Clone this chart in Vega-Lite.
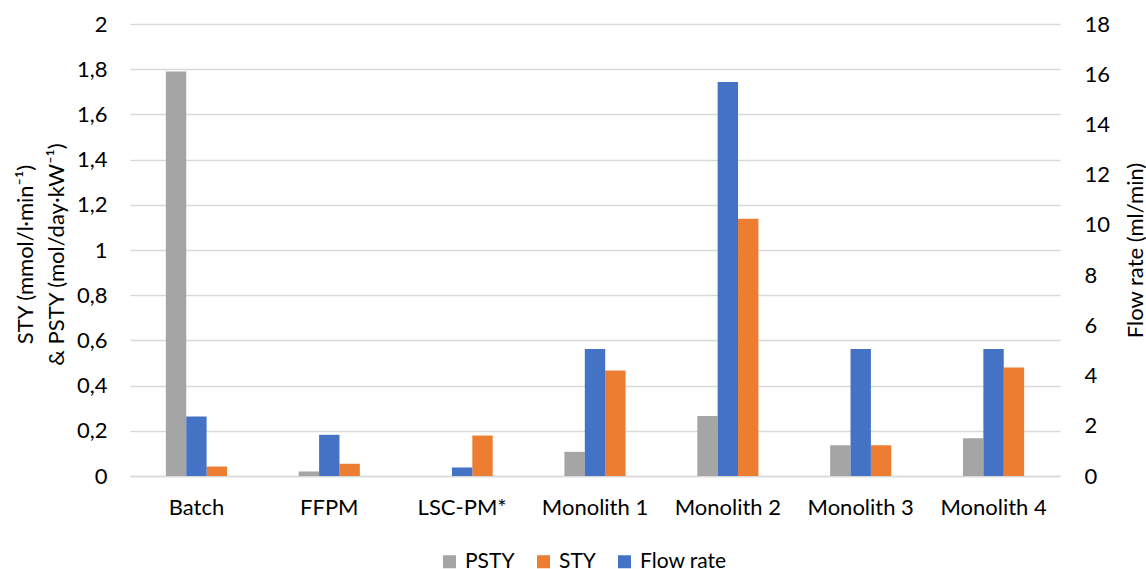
{
  "$schema": "https://vega.github.io/schema/vega-lite/v6.json",
  "autosize": {"type": "none"},
  "padding": {"left": 130, "top": 24, "right": 86, "bottom": 93},
  "width": 930,
  "height": 452,
  "background": "white",
  "config": {
    "font": "Lato",
    "view": {"stroke": null},
    "axis": {"labelFont": "Lato", "titleFont": "Lato", "labelColor": "#000000", "titleColor": "#000000", "labelFontSize": 22, "titleFontSize": 22, "titleFontWeight": "normal", "ticks": false, "domain": false}
  },
  "data": {
    "values": [
      {"group": "Batch", "series": "PSTY", "value": 1.79},
      {"group": "Batch", "series": "STY", "value": 0.042},
      {"group": "Batch", "series": "Flow rate", "value": 2.37},
      {"group": "FFPM", "series": "PSTY", "value": 0.02},
      {"group": "FFPM", "series": "STY", "value": 0.054},
      {"group": "FFPM", "series": "Flow rate", "value": 1.64},
      {"group": "LSC-PM*", "series": "PSTY", "value": 0},
      {"group": "LSC-PM*", "series": "STY", "value": 0.179},
      {"group": "LSC-PM*", "series": "Flow rate", "value": 0.34},
      {"group": "Monolith 1", "series": "PSTY", "value": 0.107},
      {"group": "Monolith 1", "series": "STY", "value": 0.467},
      {"group": "Monolith 1", "series": "Flow rate", "value": 5.06},
      {"group": "Monolith 2", "series": "PSTY", "value": 0.266},
      {"group": "Monolith 2", "series": "STY", "value": 1.138},
      {"group": "Monolith 2", "series": "Flow rate", "value": 15.69},
      {"group": "Monolith 3", "series": "PSTY", "value": 0.136},
      {"group": "Monolith 3", "series": "STY", "value": 0.136},
      {"group": "Monolith 3", "series": "Flow rate", "value": 5.06},
      {"group": "Monolith 4", "series": "PSTY", "value": 0.167},
      {"group": "Monolith 4", "series": "STY", "value": 0.48},
      {"group": "Monolith 4", "series": "Flow rate", "value": 5.06}
    ]
  },
  "encoding": {
    "x": {
      "field": "group",
      "type": "nominal",
      "sort": null,
      "scale": {"paddingInner": 0.54, "paddingOuter": 0.27},
      "axis": {"title": null, "labelAngle": 0, "labelPadding": 21, "domain": true, "domainColor": "#D9D9D9", "domainWidth": 1.5}
    },
    "xOffset": {
      "field": "series",
      "type": "nominal",
      "scale": {"domain": ["PSTY", "Flow rate", "STY"], "paddingInner": 0, "paddingOuter": 0}
    },
    "color": {
      "field": "series",
      "type": "nominal",
      "scale": {"domain": ["PSTY", "STY", "Flow rate"], "range": ["#A5A5A5", "#ED7D31", "#4472C4"]},
      "legend": {
        "title": null,
        "orient": "none",
        "direction": "horizontal",
        "legendX": 309,
        "legendY": 527,
        "symbolType": "square",
        "symbolSize": 169,
        "symbolStrokeWidth": 0,
        "labelFont": "Lato",
        "labelFontSize": 21,
        "labelColor": "#000000",
        "labelOffset": 5,
        "columnPadding": 18
      }
    }
  },
  "layer": [
    {
      "transform": [{"filter": "datum.series !== 'Flow rate'"}],
      "mark": {"type": "bar"},
      "encoding": {
        "y": {
          "field": "value",
          "type": "quantitative",
          "scale": {"domain": [0, 2], "nice": false},
          "axis": {
            "orient": "left",
            "values": [0, 0.2, 0.4, 0.6, 0.8, 1, 1.2, 1.4, 1.6, 1.8, 2],
            "labelExpr": "replace(format(datum.value, '~g'), '.', ',')",
            "labelPadding": 23,
            "grid": true,
            "gridColor": "#D9D9D9",
            "gridWidth": 1.5,
            "title": ["STY (mmol/l·min⁻¹)", "& PSTY (mol/day·kW⁻¹)"],
            "titleAngle": -90,
            "titleBaseline": "middle",
            "titleAlign": "center",
            "titleLineHeight": 31,
            "titleX": -105,
            "titleY": 230
          }
        }
      }
    },
    {
      "transform": [{"filter": "datum.series === 'Flow rate'"}],
      "mark": {"type": "bar"},
      "encoding": {
        "y": {
          "field": "value",
          "type": "quantitative",
          "scale": {"domain": [0, 18], "nice": false},
          "axis": {
            "orient": "right",
            "values": [0, 2, 4, 6, 8, 10, 12, 14, 16, 18],
            "labelPadding": 24,
            "grid": false,
            "title": "Flow rate (ml/min)",
            "titleAngle": -90,
            "titleBaseline": "middle",
            "titleAlign": "center",
            "titleX": 75,
            "titleY": 226
          }
        }
      }
    }
  ],
  "resolve": {"scale": {"y": "independent"}, "axis": {"y": "independent"}}
}
